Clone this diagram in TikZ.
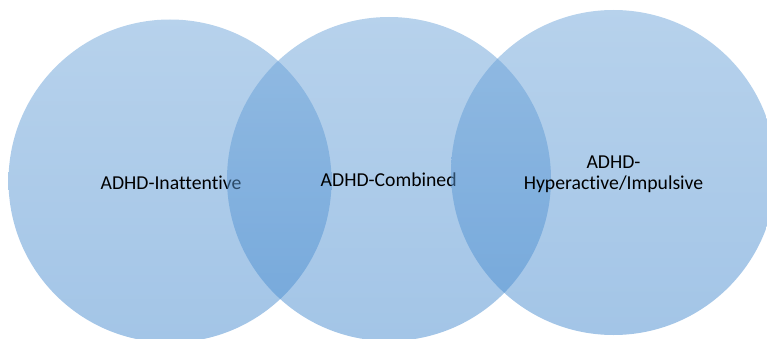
\documentclass[tikz,border=0pt]{standalone}
\usepackage{fontspec}
\setmainfont{Carlito}[Ligatures={NoCommon}]
\definecolor{vtop}{RGB}{111,165,217}
\definecolor{vbot}{RGB}{71,139,207}
\begin{document}
\begin{tikzpicture}[x=1pt,y=-1pt,
  venn/.style={circle, inner sep=0pt, draw=none, top color=vtop, bottom color=vbot, fill opacity=0.5},
  lbl/.style={font=\fontsize{19.7}{21}\selectfont, text=black, text opacity=1, align=center, inner sep=0pt}]
\useasboundingbox (0,0) rectangle (767,339);
\node[venn, minimum size=323pt] (c1) at (170,181) {};
\node[lbl, anchor=base] (t1) at (171,189.3) {ADHD-Inattentive};
\node[venn, minimum size=324pt] (c2) at (389,179) {};
\node[lbl, anchor=base] (t2) at (388.7,186) {ADHD-Combined};
\node[venn, minimum size=325pt] (c3) at (613.5,172.5) {};
\node[lbl] (t3) at (613.5,174.5) {ADHD-\\Hyperactive/Impulsive};
\end{tikzpicture}
\end{document}
